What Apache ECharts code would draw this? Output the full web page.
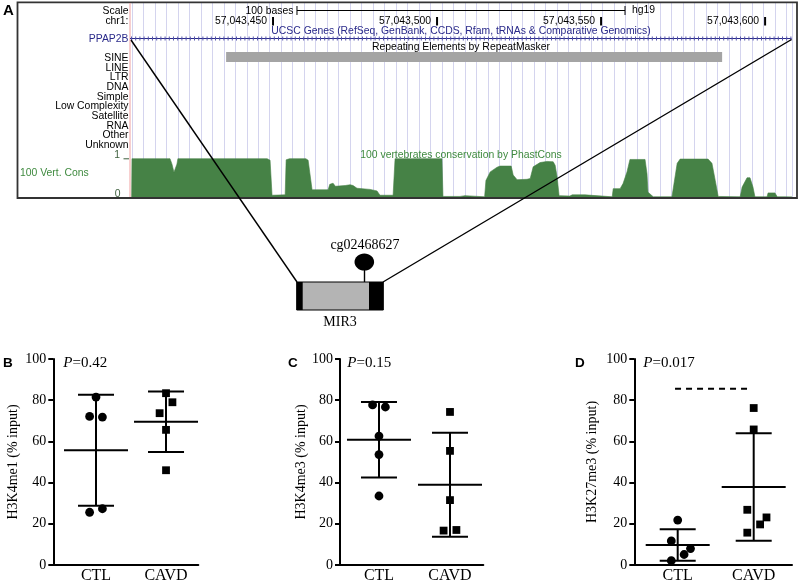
<!DOCTYPE html>
<html><head><meta charset="utf-8">
<script src="https://cdn.jsdelivr.net/npm/echarts@6/dist/echarts.min.js"></script>
<style>html,body{margin:0;padding:0;background:#fff}#c{width:800px;height:584px}</style>
</head><body><div id="c"></div>
<script>
// ===== Panel A data (positions are offsets from chr1:57,043,400) =====
const chromBase = 57043400;
const windowRange = [6.4, 208.2];
const positionTicks = [50, 100, 150, 200];
const scaleBar = [57.3, 157.3];           // 100 bases
const repeatElement = [35.7, 186.9];
const trackLabels = ['SINE','LINE','LTR','DNA','Simple','Low Complexity','Satellite','RNA','Other','Unknown'];
const consPos = [6.9,7.0,18.6,19.2,19.8,20.3,20.7,21.0,48.2,49.1,49.7,53.7,54.0,55.0,60.0,60.7,61.9,66.8,67.3,68.3,69.0,72.0,73.5,74.4,75.6,79.6,80.0,81.7,82.6,86.6,87.2,101.5,101.8,107.0,107.3,108.5,108.8,114.5,114.9,116.2,118.3,119.2,122.6,123.2,124.4,127.4,128.4,129.3,131.4,133.5,135.4,136.0,136.6,137.2,140.5,141.2,145.1,145.7,153.4,153.7,155.8,156.7,157.9,158.8,163.4,164.0,164.3,165.9,171.6,171.9,173.2,174.1,182.6,183.8,184.8,185.7,192.4,193.0,194.5,195.4,196.3,196.9,200.6,200.9,203.0,203.7,208.2];
const consVal = [0,0.99,0.99,0.85,0.64,0.66,0.85,0.99,0.99,0.95,0.05,0.06,0.96,0.99,0.99,0.95,0.19,0.19,0.33,0.36,0.28,0.30,0.32,0.30,0.23,0.20,0.17,0.16,0.05,0.05,0.99,0.99,0.02,0.02,0.04,0.04,0.01,0.01,0.43,0.65,0.77,0.80,0.80,0.57,0.45,0.46,0.48,0.78,0.89,0.92,0.91,0.82,0.52,0.04,0.03,0.06,0.06,0.01,0.01,0.22,0.22,0.35,0.65,0.97,0.97,0.60,0.13,0.01,0.01,0.17,0.87,0.98,0.98,0.87,0.43,0.02,0.01,0.26,0.50,0.50,0.26,0.01,0.01,0.11,0.11,0.01,0.01];

// ===== Panels B-D data =====
const categories = ['CTL','CAVD'];
const bCTL = [81.5, 72.1, 71.8, 27.3, 25.6];
const bCTLJit = [0, -1, 1, 1, -1];
const bCAVD = [83.4, 79.0, 73.7, 65.6, 46.0];
const bCAVDJit = [0, 1, -1, 0, 0];
const cCTL = [77.7, 76.7, 62.6, 53.6, 33.5];
const cCTLJit = [-1, 1, 0, 0, 0];
const cCAVD = [74.3, 55.4, 31.5, 16.7, 17.0];
const cCAVDJit = [0, 0, 0, -1, 1];
const dCTL = [21.8, 11.7, 8.0, 5.1, 2.1];
const dCTLJit = [0, -1, 2, 1, -1];
const dCAVD = [76.2, 65.8, 26.8, 23.1, 19.7, 15.7];
const dCAVDJit = [0, 0, -1, 2, 1, -1];
const pValues = ['0.42', '0.15', '0.017'];
const yTitles = ['H3K4me1 (% input)', 'H3K4me3 (% input)', 'H3K27me3 (% input)'];
const yTicks = [0, 20, 40, 60, 80, 100];
const sigLineD = [0.965, 1.95, 85.5];

const SANS = '"Liberation Sans", Arial, sans-serif';
const SERIF = '"Liberation Serif", "Times New Roman", serif';

function meanSd(a){const n=a.length;const m=a.reduce((s,v)=>s+v,0)/n;const sd=Math.sqrt(a.reduce((s,v)=>s+(v-m)*(v-m),0)/(n-1));return [m,sd];}

const panels = [
  {grid:{left:53.3,width:145,top:359,height:207.3}, min:0.39, max:2.461, ctl:bCTL, ctlJ:bCTLJit, cavd:bCAVD, cavdJ:bCAVDJit, gap:33},
  {grid:{left:340,width:143.3,top:359,height:207.5}, min:0.451, max:2.469, ctl:cCTL, ctlJ:cCTLJit, cavd:cCAVD, cavdJ:cCAVDJit, gap:28},
  {grid:{left:634.3,width:157.7,top:359,height:207.5}, min:0.429, max:2.504, ctl:dCTL, ctlJ:dCTLJit, cavd:dCAVD, cavdJ:dCAVDJit, gap:35}
];

const chart = echarts.init(document.getElementById('c'));

const grids = [
  {left:131.97, right:8, top:3, height:194},        // guideline grid
  {left:130, right:8, top:52, height:10},            // repeat track
  {left:130, right:8, top:158.3, height:38.9}        // conservation
];
const xAxes = [
  {gridIndex:0, type:'value', min:7, max:windowRange[1], interval:3.5, axisLine:{show:false}, axisTick:{show:false}, axisLabel:{show:false}, splitLine:{show:true, lineStyle:{color:'#d4d4ee', width:1}}},
  {gridIndex:1, type:'value', min:windowRange[0], max:windowRange[1], show:false},
  {gridIndex:2, type:'value', min:windowRange[0], max:windowRange[1], show:false}
];
const yAxes = [
  {gridIndex:0, type:'value', min:0, max:1, show:false},
  {gridIndex:1, type:'value', min:0, max:1, show:false},
  {gridIndex:2, type:'value', min:0, max:1, show:false}
];
const series = [
  {type:'custom', xAxisIndex:1, yAxisIndex:1, data:[repeatElement], z:2,
   renderItem(p, api){const a=api.coord([api.value(0),1]);const b=api.coord([api.value(1),0]);
     return {type:'rect', shape:{x:a[0], y:a[1], width:b[0]-a[0], height:b[1]-a[1]}, style:{fill:'#a4a4a4'}};}},
  {type:'line', xAxisIndex:2, yAxisIndex:2, data:consPos.map((p,i)=>[p, consVal[i]]), showSymbol:false, symbol:'none',
   lineStyle:{width:0.6, color:'#468246'}, areaStyle:{color:'#468246', opacity:1}, z:2}
];

panels.forEach((pn, k) => {
  const gi = 3 + k;
  grids.push(pn.grid);
  xAxes.push({gridIndex:gi, type:'value', min:pn.min, max:pn.max,
    axisLine:{lineStyle:{color:'#000', width:2}}, axisTick:{show:false}, splitLine:{show:false},
    axisLabel:{customValues:[1,2], formatter:v=>categories[Math.round(v)-1]||'', color:'#000', fontFamily:SERIF, fontSize:16, margin:3}});
  yAxes.push({gridIndex:gi, type:'value', min:0, max:100, interval:20,
    axisLine:{show:true, lineStyle:{color:'#000', width:2}}, axisTick:{show:true, length:5, lineStyle:{color:'#000', width:2}},
    splitLine:{show:false}, axisLabel:{color:'#000', fontFamily:SERIF, fontSize:14, margin:7},
    name:yTitles[k], nameLocation:'middle', nameGap:pn.gap, nameTextStyle:{color:'#000', fontFamily:SERIF, fontSize:14}});
  const st = [[1].concat(meanSd(pn.ctl)), [2].concat(meanSd(pn.cavd))];
  series.push({type:'custom', xAxisIndex:gi, yAxisIndex:gi, data:st, z:3,
    renderItem(p, api){
      const c=api.value(0), m=api.value(1), s=api.value(2);
      const pm=api.coord([c,m]), pt=api.coord([c,m+s]), pb=api.coord([c,m-s]);
      const ls={stroke:'#000', lineWidth:2};
      return {type:'group', children:[
        {type:'line', shape:{x1:pm[0]-32,y1:pm[1],x2:pm[0]+32,y2:pm[1]}, style:ls},
        {type:'line', shape:{x1:pt[0],y1:pt[1],x2:pb[0],y2:pb[1]}, style:ls},
        {type:'line', shape:{x1:pt[0]-18,y1:pt[1],x2:pt[0]+18,y2:pt[1]}, style:ls},
        {type:'line', shape:{x1:pb[0]-18,y1:pb[1],x2:pb[0]+18,y2:pb[1]}, style:ls}
      ]};
    }});
  const mk = (vals, jit, cat) => vals.map((v,i)=>[cat, v, jit[i]]);
  series.push({type:'custom', xAxisIndex:gi, yAxisIndex:gi, data:mk(pn.ctl, pn.ctlJ, 1), z:4,
    renderItem(p, api){const q=api.coord([api.value(0),api.value(1)]);
      return {type:'circle', shape:{cx:q[0]+api.value(2)*6.4, cy:q[1], r:4.4}, style:{fill:'#000'}};}});
  series.push({type:'custom', xAxisIndex:gi, yAxisIndex:gi, data:mk(pn.cavd, pn.cavdJ, 2), z:4,
    renderItem(p, api){const q=api.coord([api.value(0),api.value(1)]);const x=q[0]+api.value(2)*6.4;
      return {type:'rect', shape:{x:x-3.9, y:q[1]-3.9, width:7.8, height:7.8}, style:{fill:'#000'}};}});
});
// significance dashed line in panel D
series.push({type:'custom', xAxisIndex:5, yAxisIndex:5, data:[sigLineD], z:4,
  renderItem(p, api){const a=api.coord([api.value(0),api.value(2)]);const b=api.coord([api.value(1),api.value(2)]);
    return {type:'line', shape:{x1:a[0],y1:a[1],x2:b[0],y2:b[1]}, style:{stroke:'#000', lineWidth:2, lineDash:[6,5]}};}});

chart.setOption({animation:false, backgroundColor:'#fff', grid:grids, xAxis:xAxes, yAxis:yAxes, series:series});

// ----- graphic overlays -----
const px = v => chart.convertToPixel({xAxisIndex:2, yAxisIndex:2}, [v, 0])[0];
function T(text, x, y, o){o=o||{};return {type:'text', x:x, y:y, z:o.z||10, style:{text:text, fill:o.fill||'#000',
  fontFamily:o.ff||SANS, fontSize:o.fs||10.4, fontWeight:o.fw||'normal', fontStyle:o.fst||'normal',
  align:o.a||'left', verticalAlign:'middle', textAlign:o.a||'left', textVerticalAlign:'middle', rich:o.rich}};}
function L(x1,y1,x2,y2,c,w,z,dash){return {type:'line', z:z||10, shape:{x1,y1,x2,y2}, style:{stroke:c||'#000', lineWidth:w||1, lineDash:dash}};}
const fmt = n => n.toLocaleString('en-US');
const g = [];
g.push(T('A', 3, 10.5, {fw:'bold', fs:15}));
g.push({type:'rect', z:9, shape:{x:17.5, y:2.3, width:779.5, height:195.7}, style:{fill:'none', stroke:'#333', lineWidth:1.8}});
g.push(L(130, 3, 130, 197, '#f0a0a0', 1, 9));
g.push(T('Scale', 128.5, 11.5, {a:'right'}));
g.push(T('chr1:', 128.5, 21.5, {a:'right'}));
g.push(T('PPAP2B', 128.5, 39.5, {a:'right', fill:'#2a2a8a'}));
trackLabels.forEach((t,i)=>g.push(T(t, 128.5, 58.2 + i*9.65, {a:'right'})));
g.push(T('1', 120, 155, {a:'right', fill:'#3d5f3d'}));
g.push(L(123.5, 158.8, 129, 158.8, '#3d5f3d', 1));
g.push(T('0', 120.5, 194, {a:'right', fill:'#3d5f3d'}));
g.push(T('100 Vert. Cons', 20, 172.7, {fill:'#3f8a3f'}));
// scale bar
const sb0 = px(scaleBar[0]), sb1 = px(scaleBar[1]);
g.push(T(Math.round(scaleBar[1]-scaleBar[0]) + ' bases', sb0 - 3.5, 11, {a:'right'}));
g.push(L(sb0, 6, sb0, 15, '#000', 1));
g.push(L(sb0, 10.5, sb1, 10.5, '#000', 1));
g.push(L(sb1, 6, sb1, 15, '#000', 1));
g.push(T('hg19', sb1 + 7, 10.5));
// position ticks
positionTicks.forEach(v => {const x = px(v);
  g.push(T(fmt(chromBase + v), x - 6, 21.5, {a:'right'}));
  g.push(L(x, 17, x, 25.5, '#000', 2));
});
const mid = (px(windowRange[0]) + px(windowRange[1])) / 2;
g.push(T('UCSC Genes (RefSeq, GenBank, CCDS, Rfam, tRNAs & Comparative Genomics)', mid, 31, {a:'center', fill:'#2a2a8a'}));
g.push(T('Repeating Elements by RepeatMasker', mid, 47.5, {a:'center'}));
g.push(T('100 vertebrates conservation by PhastCons', mid, 155.5, {a:'center', fill:'#3f8a3f'}));
// gene line
const gx0 = px(windowRange[0]), gx1 = px(windowRange[1]) - 0.5;
g.push(L(gx0, 38.5, gx1, 38.5, '#2a2a8a', 1));
g.push(L(gx0 + 1, 38.5, gx1, 38.5, '#5555aa', 4, 10, [1, 3.2]));
// connecting lines
g.push(L(gx0 + 1, 40, 297, 282, '#000', 1.4, 20));
g.push(L(gx1, 39.5, 383, 282, '#000', 1.4, 20));
// MIR3 schematic
g.push({type:'rect', z:10, shape:{x:296.7, y:282, width:86.6, height:28}, style:{fill:'#b4b4b4', stroke:'#000', lineWidth:1}});
g.push({type:'rect', z:11, shape:{x:296.7, y:282, width:6, height:28}, style:{fill:'#000'}});
g.push({type:'rect', z:11, shape:{x:369, y:282, width:14.3, height:28}, style:{fill:'#000'}});
g.push(L(364.5, 269, 364.5, 282, '#000', 1.4));
g.push({type:'ellipse', z:11, shape:{cx:364.3, cy:262, rx:9.8, ry:8.6}, style:{fill:'#000'}});
g.push(T('cg02468627', 365, 245, {a:'center', ff:SERIF, fs:14}));
g.push(T('MIR3', 340, 322, {a:'center', ff:SERIF, fs:14}));
// panel letters and P values
[['B', 3], ['C', 288], ['D', 575]].forEach(([t, x]) => g.push(T(t, x, 363, {fw:'bold', fs:13.5})));
[63.3, 347.3, 643.3].forEach((x, i) => g.push({type:'text', x:x, y:363, z:10,
  style:{text:'{i|P}=' + pValues[i], fill:'#000', fontFamily:SERIF, fontSize:15, verticalAlign:'middle', textVerticalAlign:'middle',
    rich:{i:{fontStyle:'italic', fontFamily:SERIF, fontSize:15, fill:'#000'}}}}));
chart.setOption({graphic:{elements:g}});
</script></body></html>
